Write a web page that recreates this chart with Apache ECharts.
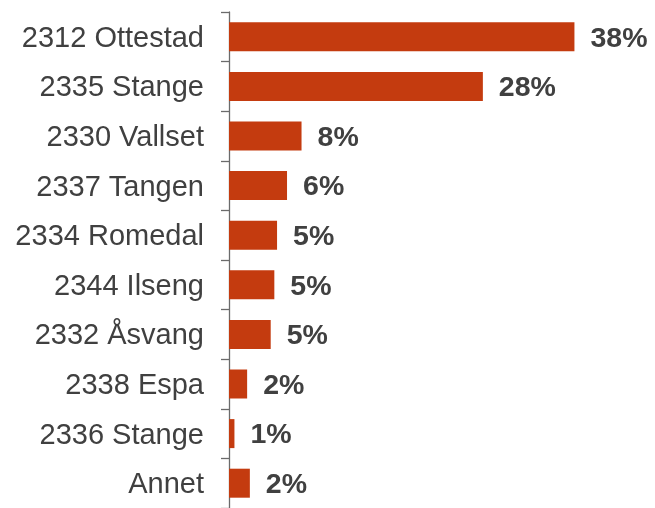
<!DOCTYPE html>
<html><head><meta charset="utf-8">
<script src="https://cdn.jsdelivr.net/npm/echarts@6/dist/echarts.min.js"></script>
<style>html,body{margin:0;padding:0;background:#fff}#c{width:655px;height:508px}</style>
</head><body><div id="c"></div>
<script>
const categories = ['2312 Ottestad','2335 Stange','2330 Vallset','2337 Tangen','2334 Romedal','2344 Ilseng','2332 Åsvang','2338 Espa','2336 Stange','Annet'];
const values = [38.1, 28.0, 8.0, 6.4, 5.3, 5.0, 4.6, 2.0, 0.6, 2.3];

const chart = echarts.init(document.getElementById('c'), null, {renderer:'canvas'});
chart.setOption({
  animation: false,
  grid: {left: 229, top: 12, width: 408, height: 500, containLabel: false},
  xAxis: {type:'value', min:0, max:45, show:false},
  yAxis: {
    type:'category', data: categories, inverse: true,
    axisLine: {show:true, lineStyle:{color:'#6b6b6b', width:1.3}},
    axisTick: {show:true, length:8, inside:false, lineStyle:{color:'#6b6b6b', width:1.3}},
    axisLabel: {margin:25, formatter: v => '{a|' + v + '}',
      rich: {a: {color:'#404040', fontSize:29, fontFamily:'Liberation Sans, Arial', padding:[4,0,0,0]}}}
  },
  series: [{
    type:'bar', data: values, barWidth: 29,
    itemStyle: {color:'#C43B0F'},
    label: {show:true, position:'right', distance:16, offset:[0,2], color:'#404040', fontSize:28.5, fontWeight:'bold',
      fontFamily:'Liberation Sans, Arial', formatter: p => Math.round(p.value) + '%'}
  }]
});
</script></body></html>
